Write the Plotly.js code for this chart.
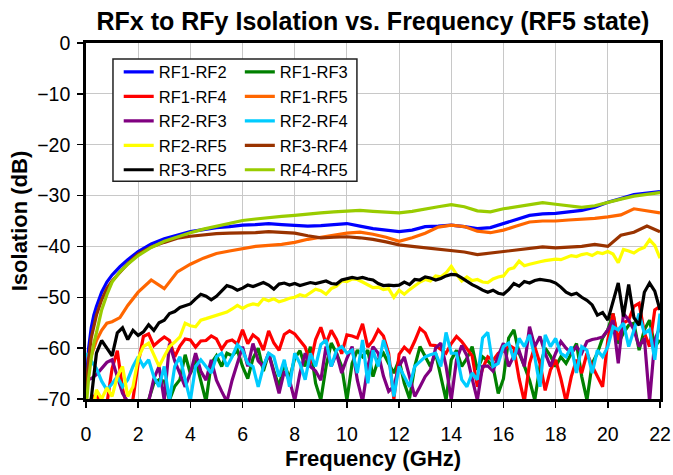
<!DOCTYPE html>
<html>
<head>
<meta charset="utf-8">
<script src="https://cdn.plot.ly/plotly-3.0.1.min.js"></script>
<style>html,body{margin:0;padding:0;background:#fff;}#chart{width:673px;height:475px;}</style>
</head>
<body>
<div id="chart"></div>
<script>
// Frequency grids (GHz)
const freqSmooth = [0,0.1,0.2,0.3,0.4,0.6,0.8,1,1.3,1.6,2,2.5,3,3.5,4,4.5,5,5.5,6,6.5,7,7.5,8,8.5,9,9.5,10,10.5,11,11.5,12,12.5,13,13.5,14,14.5,15,15.5,16,16.5,17,17.5,18,18.5,19,19.5,20,20.5,21,21.5,22];
const freqFine = [0,0.2,0.4,0.6,0.8,1,1.2,1.4,1.6,1.8,2,2.2,2.4,2.6,2.8,3,3.2,3.4,3.6,3.8,4,4.2,4.4,4.6,4.8,5,5.2,5.4,5.6,5.8,6,6.2,6.4,6.6,6.8,7,7.2,7.4,7.6,7.8,8,8.2,8.4,8.6,8.8,9,9.2,9.4,9.6,9.8,10,10.2,10.4,10.6,10.8,11,11.2,11.4,11.6,11.8,12,12.2,12.4,12.6,12.8,13,13.2,13.4,13.6,13.8,14,14.2,14.4,14.6,14.8,15,15.2,15.4,15.6,15.8,16,16.2,16.4,16.6,16.8,17,17.2,17.4,17.6,17.8,18,18.2,18.4,18.6,18.8,19,19.2,19.4,19.6,19.8,20,20.2,20.4,20.6,20.8,21,21.2,21.4,21.6,21.8,22];

// Isolation (dB) series
const rf1rf2 = [-68,-60,-56,-53.5,-51.8,-49,-47,-45.6,-44,-42.6,-41,-39.5,-38.5,-37.8,-37.1,-36.7,-36.3,-36.1,-35.8,-35.7,-35.5,-35.7,-35.8,-36,-35.9,-35.7,-35.5,-36,-36.5,-36.8,-37.1,-36.8,-36.1,-36,-35.8,-36.1,-36.5,-36.3,-35.5,-34.8,-33.9,-33.6,-33.5,-33.2,-32.9,-32.3,-31.3,-30.6,-29.8,-29.5,-29.2];
const rf1rf3 = [-80,-76,-72,-74,-72,-75,-72,-74,-73,-72,
 -71,-70.5,-70.2,-66.9,-66.2,-66.5,-70.2,-67.5,-66.2,-61.3,
 -65,-62.3,-66.5,-70.5,-63,-61.5,-63.6,-61,-61.5,-60.4,
 -63.6,-66,-62,-60,-64.5,-61,-64.5,-67.6,-63,-66,
 -62,-60.5,-63.6,-59.7,-66.9,-70.2,-63.6,-59,-61,-63.6,
 -70.2,-63,-60.4,-61.7,-60.4,-65.6,-62.3,-61,-63,-64.9,
 -62.3,-66.9,-69.9,-63.6,-59.7,-61.7,-63.6,-61,-65.6,-70.2,
 -62.3,-60.4,-63.6,-62,-59.7,-64.3,-61.7,-62.5,-63.6,-68.9,
 -66,-58,-56.4,-61,-63.5,-66.3,-70.2,-63.6,-60,-61.5,
 -63.6,-61.7,-63,-61,-59.1,-65.6,-70.2,-63,-61,-58,
 -56.4,-53.2,-59.1,-57,-55.5,-55.1,-60.4,-56.4,-54.5,-59.7,-58.4];
const rf1rf4 = [-74,-70,-69,-72,-71,-64,-60.5,-68,-72,-70,
 -63,-57.7,-57.2,-59.5,-58.6,-57.8,-58.5,-61.7,-59.6,-58.2,
 -58.4,-59.8,-58.6,-58.5,-57.6,-58.2,-60.2,-58.7,-58.4,-59.2,
 -56.4,-59.1,-57.4,-58.2,-60.4,-56.6,-59,-60.4,-57.3,-56.6,
 -57.2,-58.5,-59.8,-63,-58.3,-55.9,-59.1,-56.5,-58.3,-61.1,
 -57.4,-57.6,-58,-55.2,-59.8,-58.5,-56.4,-57.6,-61,-70,
 -61.2,-59.8,-60.8,-58.6,-56.1,-57,-59.4,-59.5,-60.2,-61,
 -59.1,-57.7,-58.7,-60.1,-61.5,-67.6,-64,-61.7,-62.4,-61,
 -60.6,-59.4,-60,-66,-70.5,-63,-59.7,-63,-68.3,-64.3,
 -62.3,-66,-70.5,-65.6,-62.3,-64.9,-61,-63.5,-65.6,-67.6,
 -58.4,-53.2,-58.4,-55,-54.5,-51.8,-51.2,-57,-59.7,-52.5,-51.8];
const rf1rf5 = [-70,-63.6,-61.5,-60,-58.5,-56.5,-55.1,-54.8,-54,-51.6,-49,-46.6,-48.3,-45,-43.5,-42.3,-41.4,-40.9,-40.4,-40,-39.8,-39.6,-39.2,-38.6,-38.2,-37.8,-37.4,-37.2,-37.6,-38.2,-39,-38.3,-37.4,-36.2,-35.8,-36.1,-37,-37.3,-36.8,-36,-35.2,-35,-35,-34.8,-34.7,-34.5,-34.2,-33.8,-32.6,-33,-33.4];
const rf2rf3 = [-66.3,-66,-65.2,-64,-62.8,-62.3,-65.5,-68.9,-70.5,-72,
 -74,-72,-70.5,-66,-63.6,-70.3,-59.1,-62.5,-65,-67.6,
 -64.9,-61,-64.5,-66.3,-62.3,-66.3,-68.5,-70.5,-66.3,-63,
 -59.7,-63.6,-59.1,-62.5,-63.6,-61,-64.9,-68.9,-64.5,-66.3,
 -70.3,-64.9,-61,-63.6,-64.5,-66.3,-59.7,-63.6,-61,-64.9,
 -62,-59.7,-66.3,-70.5,-63.6,-59.7,-61,-65.5,-68.5,-67.5,
 -63.6,-61.7,-65.6,-69.5,-67.6,-65.6,-64.3,-60,-59,-63.5,
 -70.2,-62.3,-59.5,-61.5,-66,-70.2,-63.6,-63.5,-64.5,-61.5,
 -59,-63.6,-61.5,-60.5,-63.6,-55.8,-59.7,-57.7,-61,-63.6,
 -61,-58.7,-60,-61,-59.7,-61,-58.7,-58.3,-58.1,-57.8,
 -56.4,-54.5,-63,-53.2,-54.5,-56.4,-59.7,-58,-70.5,-58.4,-55.8];
const rf2rf4 = [-61,-62.5,-64,-66.5,-68.2,-67,-65.6,-67.6,-66.2,-63.6,
 -61.7,-63.6,-62.3,-65.6,-67.6,-63.6,-70.3,-63.6,-61.7,-66.2,
 -70.3,-63.6,-62.3,-63.6,-64.9,-61.7,-61,-63.6,-61.7,-59.3,
 -60.4,-63,-63.6,-67.6,-63.6,-61,-61.7,-65.6,-62.3,-67.6,
 -61,-63,-66.2,-61,-63.6,-59.3,-58.4,-63.6,-60.4,-59.7,
 -61,-60.4,-64.9,-58.4,-66.9,-60.4,-63.6,-58.4,-61.7,-69.5,
 -63.6,-65.6,-67.6,-63.6,-62.6,-61.7,-61.3,-61,-63.6,-56.9,
 -61,-61,-66.2,-67.6,-64.9,-66.2,-58,-56.9,-63.6,-63,
 -59.7,-59,-62.3,-58.1,-59.7,-57.4,-61.7,-67.6,-57.4,-59.7,
 -58.1,-61,-61.7,-59.7,-64.9,-59.7,-60.4,-64.9,-60.4,-61.7,
 -59.7,-55.8,-56.4,-55.1,-59.7,-56.4,-53.2,-57.1,-56.4,-62.3,-53.2];
const rf2rf5 = [-76,-74,-68.2,-70,-67.8,-69.5,-65.6,-63.6,-69.5,-67.6,
 -62,-59.7,-59,-61.5,-63.6,-61.6,-59.7,-58.8,-57.8,-55.1,
 -55.6,-55.8,-54.5,-54.2,-53.9,-53.5,-53.2,-52.9,-52.3,-51.6,
 -52.2,-51.6,-51.3,-51.5,-50.3,-50.7,-50.3,-50.9,-50.6,-50.2,
 -50,-49.5,-49.8,-49.1,-48.4,-48.7,-49.4,-48.3,-47.8,-46.8,
 -46.9,-46.4,-46.5,-47,-47.6,-48.1,-48,-48.5,-48.3,-50,
 -48.6,-49.4,-48.5,-47.8,-47,-46.5,-46.8,-45.8,-46,-45.2,
 -43.9,-45.5,-46.8,-46,-46.7,-46.5,-47,-47.1,-46.4,-46,
 -45.8,-44.5,-44.2,-42.9,-43.8,-43.5,-43.2,-43,-42.8,-42.6,
 -42.5,-42.6,-42.2,-41.8,-42,-41.6,-41.4,-41.8,-41.2,-41.4,
 -41,-41.5,-43.2,-40.6,-40.9,-41.3,-40.6,-40.2,-38.7,-39.8,-42.3];
const rf3rf4 = [-70,-62,-58,-55.5,-53.5,-50.5,-48.3,-46.8,-45,-43.4,-41.5,-40.1,-39.2,-38.4,-38,-37.7,-37.5,-37.4,-37.4,-37.3,-37.1,-37.3,-37.4,-37.9,-38.3,-38.2,-38.1,-38.3,-38.6,-39.1,-39.7,-40,-40.3,-40.5,-40.8,-41.1,-41.6,-41.3,-41,-40.6,-40.3,-40.1,-40.3,-40.2,-40,-39.6,-40,-37.8,-37.2,-36,-37.1];
const rf3rf5 = [-74,-70,-61,-58.5,-60,-61.5,-57,-56,-58.3,-56.5,
 -57.5,-56.8,-55.4,-56.5,-55,-54.5,-53.2,-52.8,-52,-51.6,
 -51.3,-50.3,-49.4,-49.8,-50.5,-49.8,-48.8,-47.7,-48,-48.6,
 -48.2,-47.6,-47.9,-47.5,-47.1,-47.6,-48.4,-47.4,-47.2,-47.6,
 -47.3,-47.7,-47.4,-47.1,-47.3,-47,-46.8,-47.3,-47.4,-46.6,
 -46.4,-46.1,-46.3,-46.1,-46.4,-46.6,-47.3,-47.7,-47.6,-47.7,
 -47.6,-47,-47.5,-46.5,-46.6,-46,-46.2,-46.6,-46.3,-45.8,
 -45.5,-45.6,-46.2,-46.9,-47.5,-48,-48.6,-49,-48.6,-49.2,
 -49.4,-48.5,-47.3,-47.8,-46.9,-47.2,-46.7,-46.5,-46.6,-46.8,
 -47.2,-48,-49,-49.5,-49.2,-50,-50.6,-51.5,-53.5,-53,
 -54.5,-51,-47.2,-53.8,-47.5,-54,-55.5,-49,-47.2,-48.8,-52.5];
const rf4rf5 = [-72,-66,-62,-59,-57,-52.5,-49.5,-47,-45,-43.5,-41.8,-40.2,-39,-38.1,-37.3,-36.6,-36,-35.4,-34.9,-34.6,-34.3,-34.1,-33.9,-33.6,-33.4,-33.2,-33,-32.9,-33.1,-33.3,-33.4,-33.1,-32.6,-32.2,-31.8,-32.2,-33,-33.2,-32.6,-32.2,-31.7,-31.4,-31.7,-32,-32.3,-32,-31.3,-30.7,-30.1,-29.7,-29.4];

const seriesNames = ['RF1-RF2','RF1-RF3','RF1-RF4','RF1-RF5','RF2-RF3','RF2-RF4','RF2-RF5','RF3-RF4','RF3-RF5','RF4-RF5'];
const seriesX = [freqSmooth,freqFine,freqFine,freqSmooth,freqFine,freqFine,freqFine,freqSmooth,freqFine,freqSmooth];
const seriesY = [rf1rf2,rf1rf3,rf1rf4,rf1rf5,rf2rf3,rf2rf4,rf2rf5,rf3rf4,rf3rf5,rf4rf5];
const seriesColors = ['#0000FF','#008000','#FF0000','#FF6600','#800080','#00CCFF','#FFFF00','#993300','#000000','#99CC00'];

const FONT = 'Liberation Sans, Arial, sans-serif';

const traces = seriesNames.map((name, i) => ({
  type: 'scatter', mode: 'lines', name: name,
  x: seriesX[i], y: seriesY[i],
  line: {color: seriesColors[i], width: 3.2},
  legend: (i % 2 === 0) ? 'legend' : 'legend2'
}));

const legendBase = {
  xanchor: 'left', yanchor: 'top', y: 0.967,
  bgcolor: 'rgba(0,0,0,0)', borderwidth: 0,
  font: {family: FONT, size: 16.5, color: '#000'},
  tracegroupgap: 0, itemwidth: 30, orientation: 'v'
};

const layout = {
  width: 673, height: 475,
  margin: {l: 86, r: 13, t: 43, b: 76, pad: 0},
  paper_bgcolor: '#fff', plot_bgcolor: '#fff',
  font: {family: FONT, color: '#000'},
  title: {
    text: '<b>RFx to RFy Isolation vs. Frequency (RF5 state)</b>',
    font: {family: FONT, size: 25, color: '#000'},
    x: 0.5, xref: 'paper', xanchor: 'center',
    y: 0.955, yref: 'container', yanchor: 'middle'
  },
  xaxis: {
    range: [0, 22], tick0: 0, dtick: 2,
    showgrid: true, gridcolor: '#c8c8c8', gridwidth: 1,
    zeroline: false,
    showline: true, linecolor: '#000', linewidth: 2.8, mirror: true,
    ticks: 'outside', ticklen: 6, tickwidth: 1.5, tickcolor: '#000',
    ticklabelstandoff: 10,
    tickfont: {family: FONT, size: 19.5, color: '#000'},
    title: {text: '<b>Frequency (GHz)</b>', font: {family: FONT, size: 22, color: '#000'}, standoff: 7}
  },
  yaxis: {
    range: [-70, 0], tick0: 0, dtick: 10,
    showgrid: true, gridcolor: '#c8c8c8', gridwidth: 1,
    zeroline: false,
    showline: true, linecolor: '#000', linewidth: 2.8, mirror: true,
    ticks: 'outside', ticklen: 6, tickwidth: 1.5, tickcolor: '#000',
    ticklabelstandoff: 3,
    tickfont: {family: FONT, size: 19.5, color: '#000'},
    title: {text: '<b>Isolation (dB)</b>', font: {family: FONT, size: 22, color: '#000'}, standoff: 4}
  },
  showlegend: true,
  legend: Object.assign({}, legendBase, {x: 0.057}),
  legend2: Object.assign({}, legendBase, {x: 0.268}),
  shapes: [{
    type: 'rect', xref: 'paper', yref: 'paper',
    x0: 0.047, x1: 0.472, y0: 0.612, y1: 0.955,
    line: {color: '#222', width: 1.5}, fillcolor: '#fff', layer: 'above'
  }]
};

Plotly.newPlot('chart', traces, layout, {displayModeBar: false, staticPlot: true});
</script>
</body>
</html>
